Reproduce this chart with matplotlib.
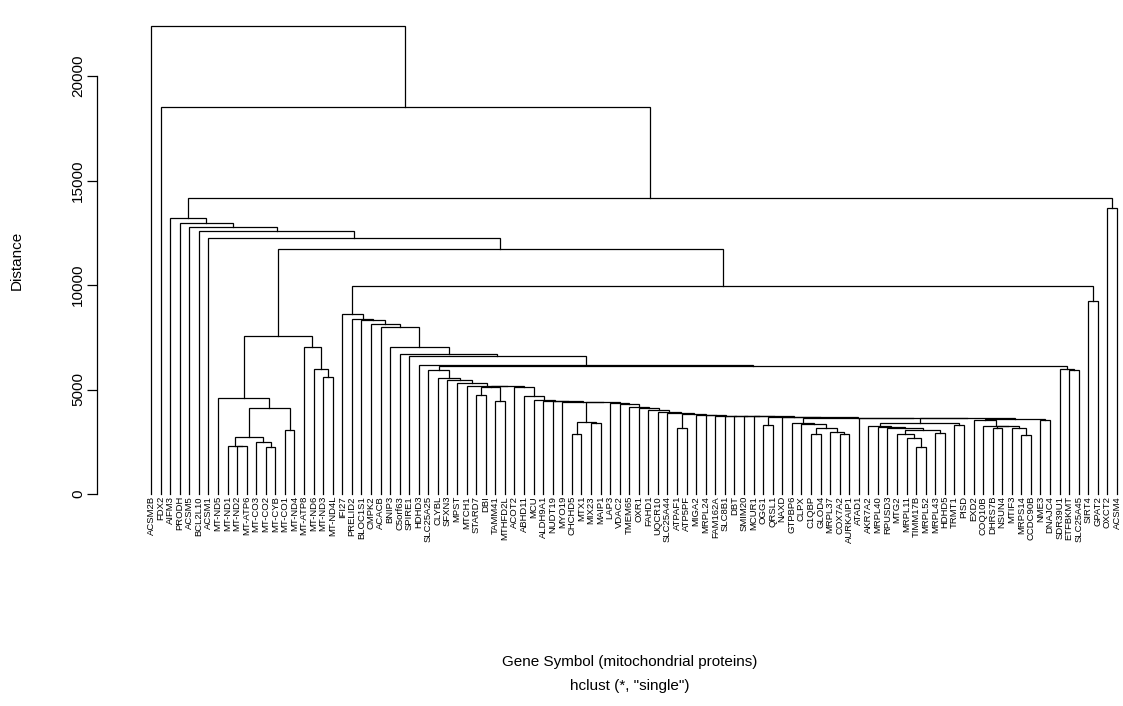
import matplotlib
matplotlib.use("Agg")
import matplotlib.pyplot as plt

# leaf order as drawn (left to right)
genes = ["ACSM2B", "FDX2", "AIFM3", "PRODH", "ACSM5", "BCL2L10", "ACSM1",
         "MT-ND5", "MT-ND1", "MT-ND2", "MT-ATP6", "MT-CO3", "MT-CO2", "MT-CYB",
         "MT-CO1", "MT-ND4", "MT-ATP8", "MT-ND6", "MT-ND3", "MT-ND4L", "IFI27",
         "PRELID2", "BLOC1S1", "CMPK2", "ACACB", "BNIP3", "C5orf63", "SPIRE1",
         "HDHD3", "SLC25A25", "CLYBL", "SFXN3", "MPST", "MTCH1", "STARD7", "DBI",
         "TAMM41", "MTHFD2L", "ACOT2", "ABHD11", "MCU", "ALDH9A1", "NUDT19",
         "MYO19", "CHCHD5", "MTX1", "MIX23", "MAIP1", "LAP3", "VDAC2", "TMEM65",
         "OXR1", "FAHD1", "UQCR10", "SLC25A44", "ATPAF1", "ATP5PF", "MIGA2",
         "MRPL24", "FAM162A", "SLC8B1", "DBT", "SMIM20", "MCUR1", "OGG1", "QRSL1",
         "NAXD", "GTPBP6", "CLPX", "C1QBP", "GLOD4", "MRPL37", "COX7A2",
         "AURKAIP1", "ATAD1", "AKR7A2", "MRPL40", "RPUSD3", "MTG2", "MRPL11",
         "TIMM17B", "MRPL52", "MRPL43", "HDHD5", "TRMT1", "PISD", "EXD2", "COQ10B",
         "DHRS7B", "NSUN4", "MTIF3", "MRPS14", "CCDC90B", "NME3", "DNAJC4",
         "SDR39U1", "ETFBKMT", "SLC25A45", "SIRT4", "GPAT2", "OXCT2", "ACSM4"]

# height at which each pair of neighbouring leaves gets joined
join_height = [22400, 18530, 13190, 12985, 12760, 12600, 12235,
               4580, 2310, 2290, 2713, 2503, 2250, 4100, 3062, 7575, 7050, 5995, 5613,
               11710,
               8600, 8374, 8326, 8120, 8006, 7050, 6700, 6603, 6172,
               5933, 5535, 5455, 5326, 5168, 4737, 5140, 4466, 5155, 5104,
               4704, 4498, 4466, 4434, 4418, 2857, 3460, 3412, 4402, 4370,
               4307, 4180, 4130, 4020, 3940, 3860, 3173, 3828, 3796, 3764,
               3748, 3740, 3735, 3728, 3715, 3302, 3705, 3690, 3380, 3350,
               2871, 3142, 2982, 2855, 3660, 3640, 3270, 3206, 3142, 2855,
               2665, 2264, 3062, 2903, 3390, 3302, 3620, 3540, 3270, 3174,
               3238, 3142, 2823, 3590, 3540,
               6130, 5980, 5933, 9950, 9235, 14150, 13670]

yticks = [0, 5000, 10000, 15000, 20000]

fig = plt.figure(figsize=(11.23, 7.06), dpi=100)
ax = fig.add_axes([97 / 1123, 206 / 706, 1023 / 1123, 480 / 706])

lw = 0.9


def draw(lo, hi):
    if lo == hi:
        return lo, 0.0
    k = max(range(lo, hi), key=lambda i: join_height[i])
    h = join_height[k]
    xl, hl = draw(lo, k)
    xr, hr = draw(k + 1, hi)
    ax.plot([xl, xl, xr, xr], [hl, h, h, hr], color="black", lw=lw,
            solid_joinstyle="miter", clip_on=False)
    return (xl + xr) / 2, h


draw(0, len(genes) - 1)

px = 20000 / 418.0
ax.set_xlim(-54 / 9.564, 101 + 3 / 9.564)
ax.set_ylim(-6 * px, 474 * px)

for i, g in enumerate(genes):
    ax.text(i, -2 * px, g, rotation=90, ha="center", va="top",
            fontsize=6.8, family="Liberation Sans", clip_on=False)

for s in ["top", "right", "bottom"]:
    ax.spines[s].set_visible(False)
ax.spines["left"].set_bounds(0, 20000)
ax.spines["left"].set_linewidth(0.9)
ax.set_xticks([])
ax.set_yticks(yticks)
ax.set_yticklabels([str(t) for t in yticks], rotation=90, va="center",
                   family="Liberation Sans", fontsize=11)
ax.tick_params(axis="y", length=7, width=0.9, pad=1.5)

ax.set_ylabel("Distance", family="Liberation Sans", fontsize=11, labelpad=34)
fig.text(630 / 1123, 1 - 662 / 706, "Gene Symbol (mitochondrial proteins)",
         ha="center", va="center", family="Liberation Sans", fontsize=11)
fig.text(630 / 1123, 1 - 686 / 706, 'hclust (*, "single")',
         ha="center", va="center", family="Liberation Sans", fontsize=11)

fig.savefig("out.png", dpi=100)
